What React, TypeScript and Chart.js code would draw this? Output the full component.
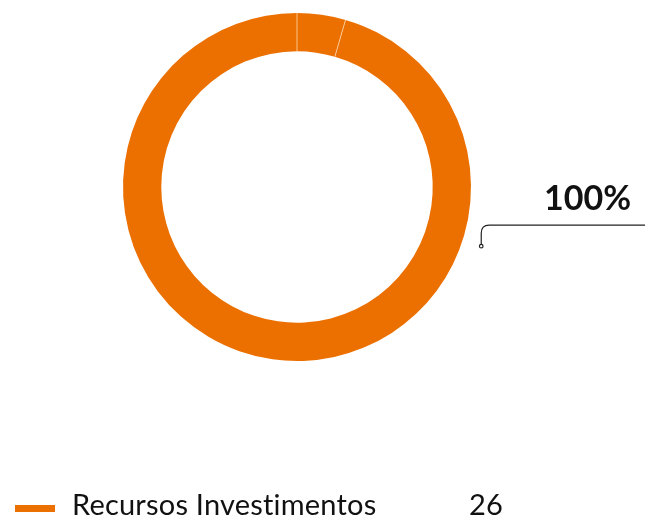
import React, { useEffect, useRef } from "react";
import { Chart, registerables } from "chart.js";

Chart.register(...registerables);

const sliceLabels = ["Recursos Investimentos A", "Recursos Investimentos B"];
const sliceValues = [4.5, 95.5];
const legendLabel = "Recursos Investimentos";
const legendValue = "26";
const totalLabel = "100%";
const ORANGE = "#EC7000";

const overlayPlugin = {
  id: "overlay",
  afterDatasetsDraw(chart: any) {
    const ctx = chart.ctx;
    const meta = chart.getDatasetMeta(0);
    ctx.save();
    meta.data.forEach((arc: any) => {
      const { x, y, startAngle, innerRadius, outerRadius } = arc.getProps(
        ["x", "y", "startAngle", "innerRadius", "outerRadius"],
        true
      );
      ctx.strokeStyle = "rgba(255,220,180,0.75)";
      ctx.lineWidth = 1;
      ctx.beginPath();
      ctx.moveTo(x + Math.cos(startAngle) * innerRadius, y + Math.sin(startAngle) * innerRadius);
      ctx.lineTo(x + Math.cos(startAngle) * outerRadius, y + Math.sin(startAngle) * outerRadius);
      ctx.stroke();
    });
    const a0: any = meta.data[0];
    const cx = a0.x;
    const cy = a0.y;
    const R = a0.outerRadius;
    const ang = (17.8 * Math.PI) / 180;
    const ax = cx + Math.cos(ang) * (R + 19.5);
    const ay = cy + Math.sin(ang) * (R + 19.5);
    const lineY = ay - 21;
    const rad = 8;
    ctx.strokeStyle = "#222";
    ctx.lineWidth = 1.2;
    ctx.beginPath();
    ctx.moveTo(ax, ay);
    ctx.lineTo(ax, lineY + rad);
    ctx.quadraticCurveTo(ax, lineY, ax + rad, lineY);
    ctx.lineTo(chart.width, lineY);
    ctx.stroke();
    ctx.fillStyle = "#fff";
    ctx.beginPath();
    ctx.arc(ax, ay, 1.8, 0, Math.PI * 2);
    ctx.fill();
    ctx.stroke();
    ctx.fillStyle = "#111";
    ctx.font = "bold 34px Lato";
    ctx.textAlign = "center";
    ctx.textBaseline = "alphabetic";
    ctx.fillText(totalLabel, 587.5, 209.5);

    // legend
    ctx.fillStyle = ORANGE;
    ctx.fillRect(15, 505, 40, 7);
    ctx.fillStyle = "#111";
    ctx.font = "29px Lato";
    (ctx as any).letterSpacing = "0.2px";
    ctx.textAlign = "left";
    ctx.fillText(legendLabel, 72, 515);
    ctx.fillText(legendValue, 469, 515);
    ctx.restore();
  },
};

export default function App() {
  const ref = useRef<HTMLCanvasElement | null>(null);
  useEffect(() => {
    document.body.style.margin = "0";
    const chart = new Chart(ref.current!, {
      type: "doughnut",
      data: {
        labels: sliceLabels,
        datasets: [
          {
            data: sliceValues,
            backgroundColor: [ORANGE, ORANGE],
            borderWidth: 0,
          },
        ],
      },
      options: {
        animation: false,
        responsive: false,
        cutout: "78%",
        layout: { padding: { top: 13, bottom: 155, left: 0, right: 51 } },
        plugins: { legend: { display: false }, tooltip: { enabled: false } },
      },
      plugins: [overlayPlugin],
    });
    return () => chart.destroy();
  }, []);
  return (
    <div style={{ position: "relative", width: 645, height: 516, overflow: "hidden" }}>
      <canvas ref={ref} width={645} height={516} style={{ position: "absolute", left: 0, top: 0 }} />
    </div>
  );
}
